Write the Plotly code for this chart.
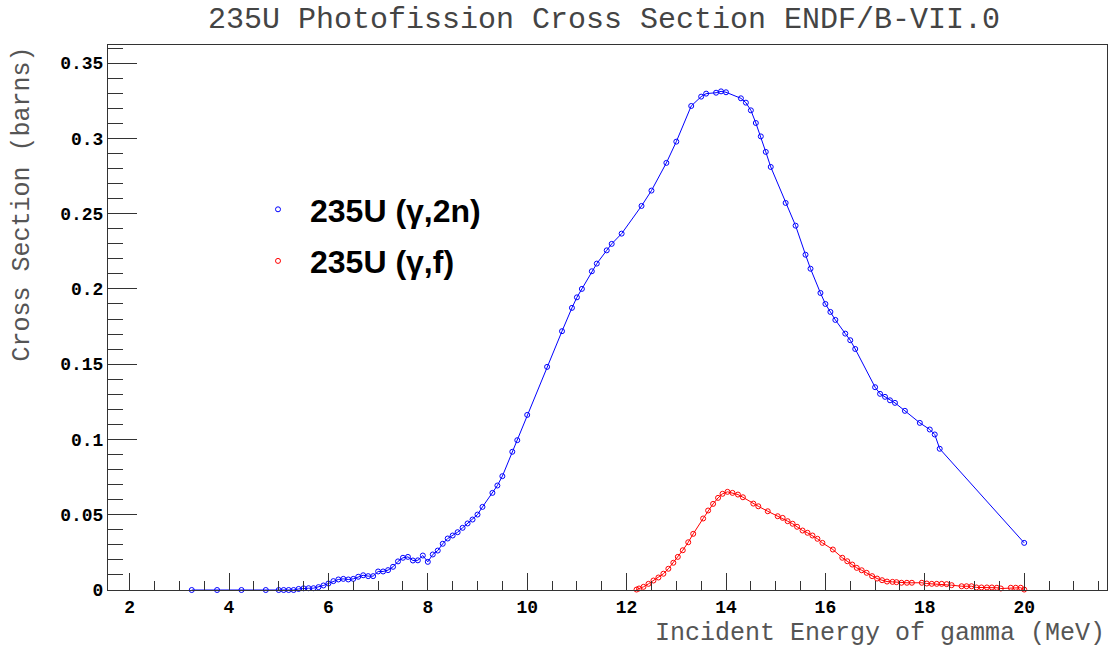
import plotly.graph_objects as go

# 235U (gamma,2n) cross section
energy_2n = [3.25, 3.76, 4.25, 4.74, 5.0, 5.1, 5.2, 5.3, 5.4, 5.5, 5.6, 5.7, 5.8, 5.9,
             6.0, 6.1, 6.2, 6.3, 6.4, 6.5, 6.6, 6.7, 6.8, 6.9, 7.0, 7.1, 7.2, 7.3,
             7.4, 7.5, 7.6, 7.7, 7.8, 7.9, 8.0, 8.1, 8.2, 8.3, 8.4, 8.5, 8.6, 8.7,
             8.8, 8.9, 9.0, 9.1, 9.3, 9.4, 9.5, 9.7, 9.8, 10.0, 10.4, 10.7, 10.9,
             11.0, 11.1, 11.3, 11.4, 11.6, 11.7, 11.9, 12.3, 12.5, 12.8, 13.0, 13.3,
             13.5, 13.6, 13.8, 13.9, 14.0, 14.3, 14.4, 14.5, 14.6, 14.7, 14.8, 14.9,
             15.2, 15.4, 15.6, 15.7, 15.9, 16.0, 16.1, 16.2, 16.4, 16.5, 16.6, 17.0,
             17.1, 17.2, 17.3, 17.4, 17.6, 17.9, 18.1, 18.2, 18.3, 20.0]
xs_2n = [0.0, 0.0, 0.0, 0.0, 0.0, 0.0, 0.0, 0.0, 0.0007, 0.0011, 0.0012, 0.0012, 0.0019, 0.003,
         0.0043, 0.0059, 0.007, 0.0074, 0.007, 0.0074, 0.0088, 0.0098, 0.0092, 0.0092, 0.0123, 0.0123, 0.0132, 0.0154,
         0.019, 0.0214, 0.022, 0.0196, 0.0197, 0.0229, 0.0187, 0.0236, 0.0262, 0.0307, 0.0342, 0.0362, 0.0384, 0.0413,
         0.0442, 0.0468, 0.0501, 0.0552, 0.0645, 0.0694, 0.0756, 0.0918, 0.0995, 0.1163, 0.1482, 0.1719, 0.1874,
         0.1944, 0.2000, 0.2117, 0.2168, 0.2256, 0.2299, 0.2367, 0.2551, 0.2653, 0.2837, 0.2978, 0.3215,
         0.3277, 0.3297, 0.3303, 0.3312, 0.3306, 0.3266, 0.3237, 0.3186, 0.3102, 0.3013, 0.2910, 0.2810,
         0.2571, 0.2420, 0.2227, 0.2134, 0.1973, 0.1900, 0.1847, 0.1794, 0.1703, 0.1659, 0.1601, 0.1347,
         0.1303, 0.1283, 0.1260, 0.1243, 0.1190, 0.1110, 0.1066, 0.1033, 0.0938, 0.0313]

# 235U (gamma,f) cross section
energy_f = [12.2, 12.25, 12.34, 12.44, 12.54, 12.64, 12.74, 12.84, 12.94, 13.03, 13.13, 13.24,
            13.34, 13.54, 13.64, 13.74, 13.84, 13.93, 14.03, 14.13, 14.24, 14.34, 14.55, 14.65,
            14.84, 15.04, 15.14, 15.24, 15.34, 15.43, 15.54, 15.64, 15.74, 15.84, 15.94, 16.15,
            16.34, 16.44, 16.54, 16.63, 16.73, 16.83, 16.94, 17.04, 17.14, 17.24, 17.35, 17.43,
            17.53, 17.64, 17.74, 17.94, 18.04, 18.14, 18.24, 18.34, 18.44, 18.54, 18.74, 18.84,
            18.94, 19.04, 19.14, 19.25, 19.35, 19.45, 19.53, 19.73, 19.83, 19.93, 20.0]
xs_f = [0.0003, 0.001, 0.0021, 0.0041, 0.0063, 0.0083, 0.0108, 0.0141, 0.0181, 0.0220, 0.0264, 0.0317,
        0.0373, 0.0475, 0.0528, 0.0572, 0.0612, 0.0639, 0.0652, 0.0645, 0.0634, 0.0616, 0.0574, 0.0556,
        0.0523, 0.0490, 0.0479, 0.0457, 0.0440, 0.0420, 0.0395, 0.0380, 0.0362, 0.0340, 0.0313, 0.0269,
        0.0214, 0.0191, 0.0169, 0.0147, 0.0131, 0.0114, 0.0092, 0.0076, 0.0065, 0.0056, 0.0054, 0.0052,
        0.0048, 0.0048, 0.0048, 0.0048, 0.0043, 0.0041, 0.0041, 0.0041, 0.0039, 0.0032, 0.0025, 0.0025,
        0.0025, 0.0017, 0.0017, 0.0017, 0.0017, 0.0015, 0.0010, 0.0015, 0.0015, 0.0015, 0.0003]

name_2n = "235U (γ,2n)"
name_f = "235U (γ,f)"
title_text = "235U Photofission Cross Section ENDF/B-VII.0"
xtitle = "Incident Energy of gamma (MeV)"
ytitle = "Cross Section (barns)"

BLUE = "#0000ff"
RED = "#ff0000"

W, H = 1111, 651

fig = go.Figure()
fig.add_trace(go.Scatter(x=energy_2n, y=xs_2n, mode="lines+markers", showlegend=False,
                         line=dict(color=BLUE, width=1),
                         marker=dict(symbol="circle-open", size=5, color=BLUE, line=dict(width=1)),
                         cliponaxis=False))
fig.add_trace(go.Scatter(x=energy_f, y=xs_f, mode="lines+markers", showlegend=False,
                         line=dict(color=RED, width=1),
                         marker=dict(symbol="circle-open", size=5, color=RED, line=dict(width=1)),
                         cliponaxis=False))
# legend entries (marker only, as in the original)
fig.add_trace(go.Scatter(x=[None], y=[None], mode="markers", name=name_2n, legendgroup="a",
                         marker=dict(symbol="circle-open", size=5, color=BLUE, line=dict(width=1))))
fig.add_trace(go.Scatter(x=[None], y=[None], mode="markers", name=name_f, legendgroup="b",
                         marker=dict(symbol="circle-open", size=5, color=RED, line=dict(width=1))))

tickfont = dict(family="Liberation Mono", size=18, color="#000", weight="bold")
axis_common = dict(showline=True, linecolor="#333", linewidth=1, mirror=True, automargin=False,
                   showgrid=False, zeroline=False, ticks="inside", tickcolor="#333",
                   tickfont=tickfont)

fig.update_xaxes(range=[1.565, 21.666], tick0=0, dtick=2, ticklen=17, tickwidth=1,
                 minor=dict(dtick=0.5, ticks="inside", ticklen=9, tickcolor="#333"),
                 **axis_common)
fig.update_yaxes(range=[0, 0.362], tick0=0, dtick=0.05, ticklen=29, tickwidth=1,
                 minor=dict(dtick=0.01, ticks="inside", ticklen=15, tickcolor="#333"),
                 **axis_common)

fig.update_layout(
    width=W, height=H,
    margin=dict(l=108, r=4, t=45, b=61, autoexpand=False),
    paper_bgcolor="white", plot_bgcolor="white",
    title=dict(text=title_text, x=604 / W, xref="container", xanchor="center",
               y=1 - 17 / H, yref="container", yanchor="middle", automargin=False,
               font=dict(family="Liberation Mono", size=30, color="#444")),
    legend=dict(x=(246 - 108) / 999, y=(590 - 182) / 545, xanchor="left", yanchor="top",
                bgcolor="rgba(0,0,0,0)", borderwidth=0, itemwidth=54, tracegroupgap=7,
                font=dict(family="Liberation Sans", size=32, color="#000", weight="bold")),
    annotations=[
        dict(text=xtitle, x=1, y=(590 - 633) / 545, xref="paper", yref="paper",
             xanchor="right", yanchor="middle", showarrow=False,
             font=dict(family="Liberation Mono", size=25, color="#555")),
        dict(text=ytitle, x=(22 - 108) / 999, y=1, xref="paper", yref="paper",
             xanchor="center", yanchor="top", textangle=-90, showarrow=False,
             font=dict(family="Liberation Mono", size=25, color="#555")),
    ],
)

# remove the browser's default 8 px page margin so the figure fills the window exactly
fig.write_html("out.html", config={"displayModeBar": False},
               post_script="document.body.style.margin='0';")
